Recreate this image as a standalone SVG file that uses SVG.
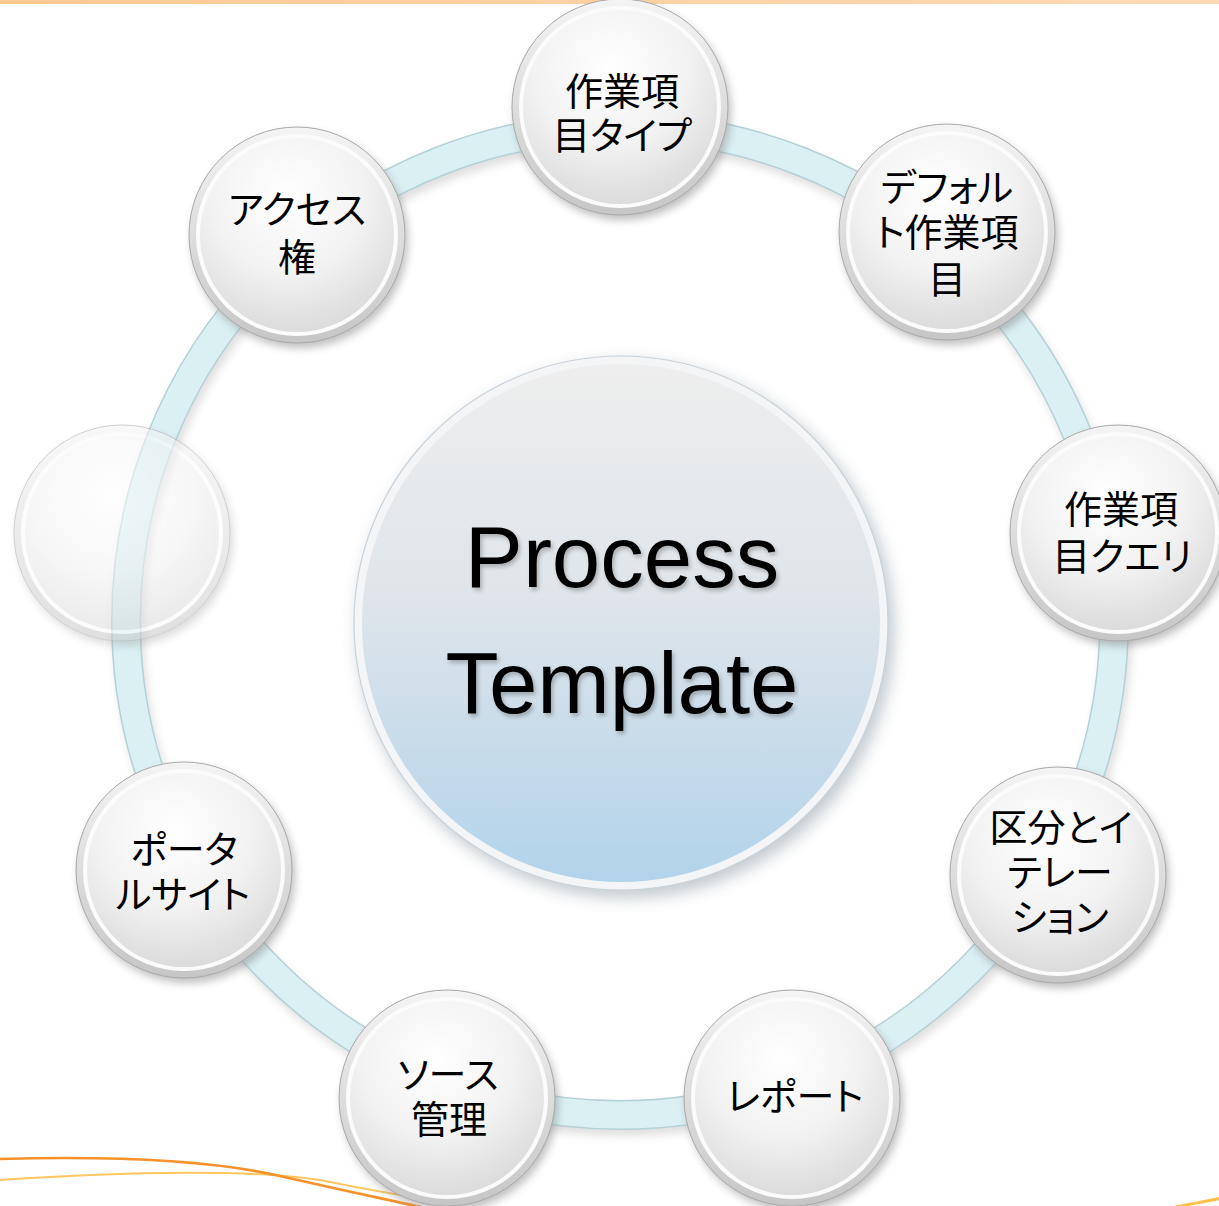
<svg xmlns="http://www.w3.org/2000/svg" xmlns:xlink="http://www.w3.org/1999/xlink" width="1219" height="1206" viewBox="0 0 1219 1206">
  <style>
    .lbl { font-family: "Noto Sans CJK JP", "Noto Sans CJK SC", sans-serif; font-size: 38px; fill: #000; text-anchor: middle; font-feature-settings: "palt" 1; }
    .hub { font-family: "Liberation Sans", Arial, sans-serif; font-size: 87px; fill: #000; text-anchor: middle; }
    .swoosh { fill: none; stroke-linecap: round; }
  </style>
  <defs>
    <linearGradient id="rimGrad" x1="0" y1="0" x2="0" y2="1">
      <stop offset="0" stop-color="#f4f4f4"/>
      <stop offset="1" stop-color="#c6c6c6"/>
    </linearGradient>
    <radialGradient id="faceGrad" cx="0.45" cy="0.3" r="0.8">
      <stop offset="0" stop-color="#ffffff"/>
      <stop offset="0.5" stop-color="#f2f2f2"/>
      <stop offset="1" stop-color="#d4d4d4"/>
    </radialGradient>
    <linearGradient id="hubGrad" x1="0" y1="0" x2="0" y2="1">
      <stop offset="0" stop-color="#eeeeee"/>
      <stop offset="0.45" stop-color="#dfe5ea"/>
      <stop offset="1" stop-color="#b2d3ea"/>
    </linearGradient>
    <linearGradient id="topBand" x1="0" y1="0" x2="1" y2="0">
      <stop offset="0" stop-color="#fcc994"/>
      <stop offset="1" stop-color="#fdd9b4"/>
    </linearGradient>
    <filter id="blur4" x="-20%" y="-20%" width="140%" height="140%">
      <feGaussianBlur stdDeviation="4"/>
    </filter>
    <filter id="blur8" x="-20%" y="-20%" width="140%" height="140%">
      <feGaussianBlur stdDeviation="8"/>
    </filter>
    <filter id="txtShadow" x="-10%" y="-10%" width="120%" height="130%">
      <feGaussianBlur in="SourceAlpha" stdDeviation="2"/>
      <feOffset dx="2" dy="3" result="s"/>
      <feComponentTransfer><feFuncA type="linear" slope="0.25"/></feComponentTransfer>
      <feMerge><feMergeNode/><feMergeNode in="SourceGraphic"/></feMerge>
    </filter>
    <!-- shared satellite disc, centred on the origin -->
    <g id="disc">
      <circle cx="3" cy="5" r="108" fill="#8a8a8a" opacity="0.55" filter="url(#blur4)"/>
      <circle r="108" fill="url(#rimGrad)" stroke="#a9a9a9" stroke-width="1"/>
      <circle r="101" fill="#fbfbfb"/>
      <circle r="97" fill="url(#faceGrad)"/>
    </g>
  </defs>

  <rect width="1219" height="1206" fill="#ffffff"/>
  <rect x="0" y="0" width="1219" height="4" fill="url(#topBand)"/>

  <!-- decorative swooshes along the bottom edge -->
  <path class="swoosh" d="M0,1180 C120,1172 260,1168 330,1182 S420,1198 445,1202" stroke="#ffc760" stroke-width="2.2"/>
  <path class="swoosh" d="M0,1159 C110,1156 210,1160 280,1176 S380,1198 425,1208" stroke="#f7922a" stroke-width="2.6"/>
  <path class="swoosh" d="M1176,1207 C1195,1203 1208,1201 1222,1198" stroke="#ffc04a" stroke-width="3"/>

  <!-- connector ring linking the satellites -->
  <g id="connectors">
    <circle cx="622" cy="624" r="494" fill="none" stroke="#000" stroke-opacity="0.12" stroke-width="30" transform="translate(1,3)" filter="url(#blur4)"/>
    <circle cx="620" cy="621" r="494" fill="none" stroke="#b5d1d7" stroke-width="30"/>
    <circle cx="620" cy="621" r="494" fill="none" stroke="#daf0f3" stroke-width="27"/>
  </g>

  <!-- hub -->
  <g id="node-hub">
    <circle cx="626" cy="630" r="268" fill="#7a8a96" opacity="0.45" filter="url(#blur8)"/>
    <circle cx="621" cy="623" r="267" fill="#f3f5f7" stroke="#c9d3da" stroke-width="1.2"/>
    <circle cx="621" cy="623" r="259" fill="url(#hubGrad)"/>
    <g filter="url(#txtShadow)">
      <text class="hub" x="622" y="587">Process</text>
      <text class="hub" x="622" y="713">Template</text>
    </g>
  </g>

  <g id="node-workitem-types">
    <use href="#disc" xlink:href="#disc" x="620" y="107"/>
    <text class="lbl" x="622" y="105">作業項</text>
    <text class="lbl" x="622" y="149">目タイプ</text>
  </g>

  <g id="node-default-workitems">
    <use href="#disc" xlink:href="#disc" x="947" y="232"/>
    <text class="lbl" x="947" y="201">デフォル</text>
    <text class="lbl" x="947" y="246">ト作業項</text>
    <text class="lbl" x="947" y="293">目</text>
  </g>

  <g id="node-workitem-queries">
    <use href="#disc" xlink:href="#disc" x="1118" y="533"/>
    <text class="lbl" x="1121" y="523">作業項</text>
    <text class="lbl" x="1122" y="570">目クエリ</text>
  </g>

  <g id="node-areas-iterations">
    <use href="#disc" xlink:href="#disc" x="1058" y="875"/>
    <text class="lbl" x="1061" y="841">区分とイ</text>
    <text class="lbl" x="1060" y="886">テレー</text>
    <text class="lbl" x="1060" y="931">ション</text>
  </g>

  <g id="node-reports">
    <use href="#disc" xlink:href="#disc" x="792" y="1098"/>
    <text class="lbl" x="795" y="1110">レポート</text>
  </g>

  <g id="node-source-control">
    <use href="#disc" xlink:href="#disc" x="447" y="1098"/>
    <text class="lbl" x="448" y="1088">ソース</text>
    <text class="lbl" x="449" y="1133">管理</text>
  </g>

  <g id="node-portal-site">
    <use href="#disc" xlink:href="#disc" x="184" y="870"/>
    <text class="lbl" x="184" y="863">ポータ</text>
    <text class="lbl" x="183" y="908">ルサイト</text>
  </g>

  <g id="node-blank" opacity="0.55">
    <use href="#disc" xlink:href="#disc" x="122" y="533"/>
  </g>

  <g id="node-access-rights">
    <use href="#disc" xlink:href="#disc" x="297" y="235"/>
    <text class="lbl" x="297" y="223">アクセス</text>
    <text class="lbl" x="297" y="271">権</text>
  </g>
</svg>
